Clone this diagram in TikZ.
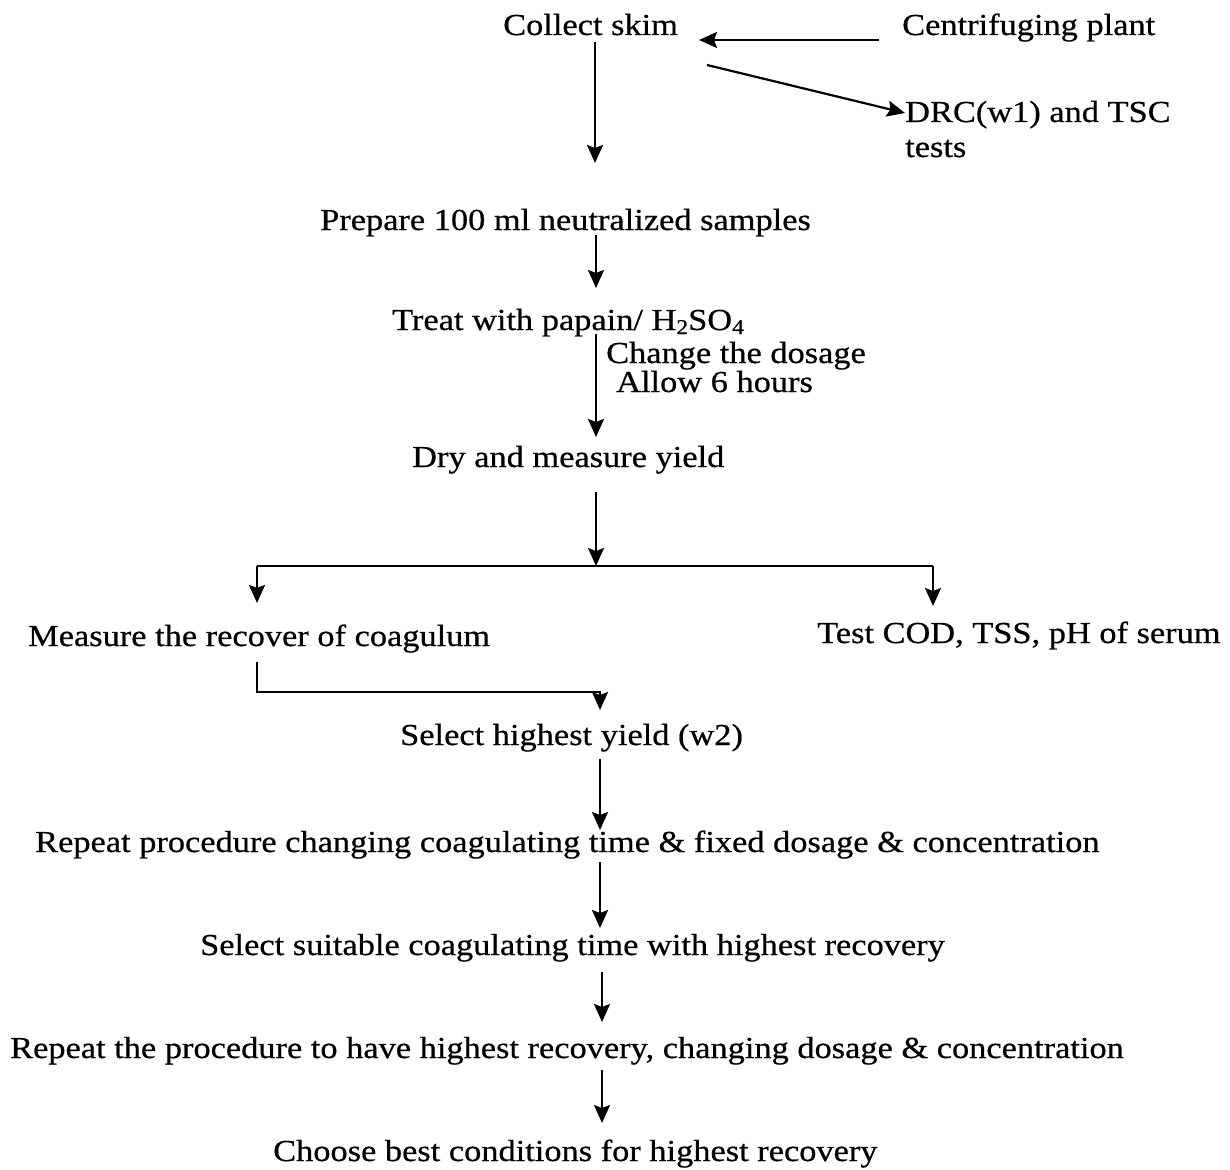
\documentclass[tikz,border=0pt]{standalone}
\usepackage{fontspec}
\setmainfont{Liberation Serif}[FakeStretch=1.127,FakeBold=0.6]
\usetikzlibrary{arrows.meta}
\newcommand{\sbs}[1]{\raisebox{-4pt}{\fontsize{21}{21}\selectfont #1}}
\begin{document}
\begin{tikzpicture}[x=1pt,y=-1pt,
  lbl/.style={anchor=base west,inner sep=0pt,font=\fontsize{30.5}{36}\selectfont},
  arr/.style={line width=2.2pt,-{Stealth[length=18pt,width=16pt,inset=3pt]}},
  ln/.style={line width=2.2pt}]
\useasboundingbox (0,0) rectangle (1230,1169);
% nodes
\node[lbl] (cs) at (503,35) {Collect skim};
\node[lbl] (cp) at (902,35) {Centrifuging plant};
\node[lbl] (drc) at (905,122) {DRC(w1) and TSC};
\node[lbl] (tests) at (905,157) {tests};
\node[lbl] (prep) at (320,230) {Prepare 100 ml neutralized samples};
\node[lbl] (treat) at (392,330) {Treat with papain/ H\sbs{2}SO\sbs{4}};
\node[lbl] (chg) at (606,363) {Change the dosage};
\node[lbl] (allow) at (616,392) {Allow 6 hours};
\node[lbl] (dry) at (412,467) {Dry and measure yield};
\node[lbl] (meas) at (28,646) {Measure the recover of coagulum};
\node[lbl] (cod) at (817,643) {Test COD, TSS, pH of serum};
\node[lbl] (sel) at (400,745) {Select highest yield (w2)};
\node[lbl] (rep1) at (35,852) {Repeat procedure changing coagulating time \& fixed dosage \& concentration};
\node[lbl] (sel2) at (200,955) {Select suitable coagulating time with highest recovery};
\node[lbl] (rep2) at (10,1058) {Repeat the procedure to have highest recovery, changing dosage \& concentration};
\node[lbl] (best) at (273,1161) {Choose best conditions for highest recovery};
% spine coordinates
\coordinate (xa) at (595,0);
\coordinate (xb) at (596,0);
\coordinate (xc) at (600,0);
\coordinate (xd) at (602,0);
\coordinate (xl) at (257,0);
\coordinate (xr) at (933,0);
\coordinate (br) at (596,566);
% connectors
\draw[arr] ([yshift=-7pt]cs.base -| xa) -- ([yshift=67pt]prep.base -| xa);
\draw[arr] ([xshift=-23pt,yshift=-5pt]cp.base west) -- ([xshift=-203pt,yshift=-5pt]cp.base west);
\draw[arr] ([xshift=-195pt,yshift=-30pt]cp.base west) -- ([yshift=9pt]drc.base west);
\draw[arr] ([yshift=-5pt]prep.base -| xb) -- ([yshift=42pt]treat.base -| xb);
\draw[arr] ([yshift=-4pt]treat.base -| xb) -- ([yshift=30pt]dry.base -| xb);
\draw[arr] ([yshift=-25pt]dry.base -| xb) -- (br);
\draw[ln] (br -| xl) -- (br -| xr);
\draw[arr] (br -| xl) -- ([yshift=43pt]meas.base -| xl);
\draw[arr] (br -| xr) -- ([yshift=37pt]cod.base -| xr);
\draw[arr] ([yshift=-16pt]meas.base -| xl) |- ([yshift=-692pt]xc) -- ([yshift=35pt]sel.base -| xc);
\draw[arr] ([yshift=-14pt]sel.base -| xc) -- ([yshift=22pt]rep1.base -| xc);
\draw[arr] ([yshift=-10pt]rep1.base -| xc) -- ([yshift=27pt]sel2.base -| xc);
\draw[arr] ([yshift=-17pt]sel2.base -| xd) -- ([yshift=36pt]rep2.base -| xd);
\draw[arr] ([yshift=-12pt]rep2.base -| xd) -- ([yshift=38pt]best.base -| xd);
\end{tikzpicture}
\end{document}
